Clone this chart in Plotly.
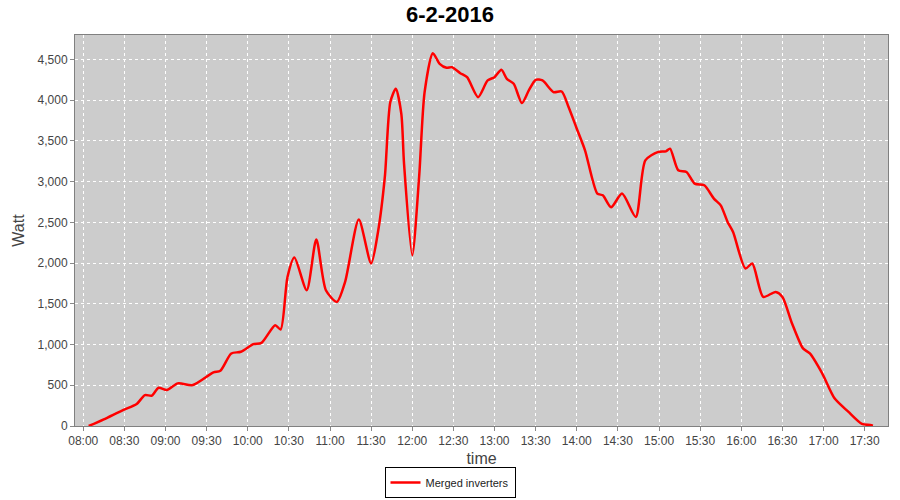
import plotly.graph_objects as go

# day of the measurement and the readings (time of day, watt)
day = "2016-02-06"
times = [
    "08:04", "08:15", "08:29", "08:39", "08:45", "08:50", "08:55", "09:01", "09:09", "09:20",
    "09:35", "09:40", "09:48", "09:55", "10:04", "10:10", "10:20", "10:24", "10:29", "10:34",
    "10:43", "10:50", "10:57", "11:05", "11:11", "11:21", "11:30", "11:35", "11:40", "11:44",
    "11:48", "11:52", "11:54", "12:00", "12:05", "12:09", "12:15", "12:20", "12:25", "12:29",
    "12:35", "12:40", "12:48", "12:55", "13:00", "13:05", "13:09", "13:14", "13:20", "13:25",
    "13:30", "13:35", "13:43", "13:49", "13:54", "14:00", "14:06", "14:15", "14:19", "14:25",
    "14:33", "14:43", "14:50", "14:59", "15:05", "15:08", "15:14", "15:20", "15:26", "15:33",
    "15:40", "15:45", "15:50", "15:54", "16:03", "16:08", "16:16", "16:25", "16:30", "16:37",
    "16:45", "16:50", "16:59", "17:08", "17:18", "17:28", "17:34", "17:36",
]
watt = [
    0, 82, 196, 270, 380, 372, 470, 441, 523, 503,
    658, 678, 891, 911, 1005, 1021, 1238, 1185, 1830, 2068,
    1667, 2289, 1667, 1524, 1769, 2534, 1995, 2382, 3057, 3977,
    4140, 3834, 3221, 2096, 3057, 4099, 4577, 4446, 4397, 4405,
    4331, 4282, 4037, 4242, 4282, 4373, 4262, 4201, 3964, 4119,
    4250, 4242, 4099, 4107, 3915, 3650, 3384, 2853, 2832, 2685,
    2853, 2566, 3261, 3363, 3372, 3405, 3139, 3118, 2975, 2955,
    2792, 2709, 2505, 2382, 1933, 1995, 1585, 1646, 1585, 1259,
    953, 891, 646, 340, 176, 25, 12, 3,
]

x = [f"{day} {t}" for t in times]

fig = go.Figure()
fig.add_trace(go.Scatter(
    x=x, y=watt, mode="lines", name="Merged inverters",
    line=dict(color="red", width=2.5, shape="spline", smoothing=0.7),
))

axis_font = dict(family="Liberation Sans", size=12, color="#444444")

fig.update_layout(
    width=900, height=500,
    paper_bgcolor="white", plot_bgcolor="#cccccc",
    margin=dict(l=75, r=12, t=35, b=74),
    title=dict(text="<b>6-2-2016</b>", x=0.5, xanchor="center", y=0.972, yanchor="middle",
               font=dict(family="Liberation Sans", size=22, color="black")),
    showlegend=True,
    legend=dict(orientation="h", xref="container", x=0.5, xanchor="center",
                yref="container", y=0.004, yanchor="bottom",
                bordercolor="black", borderwidth=1, bgcolor="white", itemwidth=30,
                font=dict(family="Liberation Sans", size=11, color="#222222")),
    xaxis=dict(
        type="date", automargin=False,
        range=[f"{day} 07:54", f"{day} 17:47"],
        tick0=f"{day} 08:00", dtick=30 * 60 * 1000, tickformat="%H:%M",
        showgrid=True, gridcolor="white", griddash="3px,3px", gridwidth=1,
        ticks="outside", ticklen=4, tickcolor="#888888",
        tickfont=axis_font,
        title=dict(text="time", font=dict(family="Liberation Sans", size=16, color="#444444"), standoff=12),
        showline=True, linecolor="#808080", mirror=True, zeroline=False,
    ),
    yaxis=dict(
        automargin=False,
        range=[0, 4800], dtick=500, tickformat=",d",
        showgrid=True, gridcolor="white", griddash="3px,3px", gridwidth=1,
        ticks="outside", ticklen=4, tickcolor="#888888",
        tickfont=axis_font,
        title=dict(text="Watt", font=dict(family="Liberation Sans", size=16, color="#444444"), standoff=8),
        showline=True, linecolor="#808080", mirror=True, zeroline=False,
    ),
)

# drop the default page margin so the figure sits at the window's corner
fig.write_html("out.html", config={"displayModeBar": False},
               post_script="document.body.style.margin='0';")
